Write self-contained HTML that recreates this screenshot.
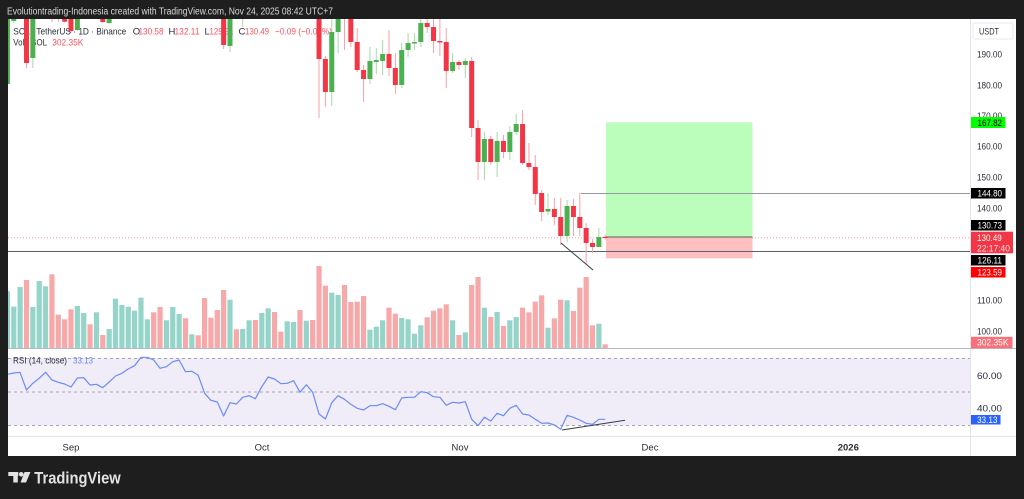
<!DOCTYPE html>
<html><head><meta charset="utf-8"><style>
html,body{margin:0;padding:0;background:#1e1e1e;}
svg{display:block;font-family:"Liberation Sans",Arial,sans-serif;}
</style></head><body>
<svg width="1024" height="499" viewBox="0 0 1024 499" xmlns="http://www.w3.org/2000/svg">
<defs>
<clipPath id="mp"><rect x="8" y="19" width="962" height="329.5"/></clipPath>
<clipPath id="rp"><rect x="8" y="349" width="962" height="87"/></clipPath>
</defs>
<rect width="1024" height="499" fill="#1e1e1e"/>
<rect x="8" y="19" width="1008" height="437" fill="#ffffff"/>
<text x="7" y="14.5" font-size="10" fill="#d9d9d9" textLength="326" lengthAdjust="spacingAndGlyphs">Evolutiontrading-Indonesia created with TradingView.com, Nov 24, 2025 08:42 UTC+7</text>

<!-- legend -->
<g font-size="9.5">
<text x="13.3" y="34.3" fill="#2a2e39" textLength="113" lengthAdjust="spacingAndGlyphs">SOL / TetherUS · 1D · Binance</text>
<text x="132.7" y="34.3" fill="#2a2e39">O</text>
<text x="138.5" y="34.3" fill="#f7525f" textLength="25" lengthAdjust="spacingAndGlyphs">130.58</text>
<text x="168.5" y="34.3" fill="#2a2e39">H</text>
<text x="174.5" y="34.3" fill="#f7525f" textLength="25" lengthAdjust="spacingAndGlyphs">132.11</text>
<text x="204.5" y="34.3" fill="#2a2e39">L</text>
<text x="209.5" y="34.3" fill="#f7525f" textLength="24" lengthAdjust="spacingAndGlyphs">129.91</text>
<text x="238.5" y="34.3" fill="#2a2e39">C</text>
<text x="245" y="34.3" fill="#f7525f" textLength="24" lengthAdjust="spacingAndGlyphs">130.49</text>
<text x="275" y="34.3" fill="#f7525f" textLength="57" lengthAdjust="spacingAndGlyphs">−0.09 (−0.07%)</text>
<text x="13.3" y="45.5" fill="#2a2e39" textLength="33.7" lengthAdjust="spacingAndGlyphs">Vol · SOL</text>
<text x="52.3" y="45.5" fill="#f7525f" textLength="31" lengthAdjust="spacingAndGlyphs">302.35K</text>
</g>

<g clip-path="url(#mp)">
<!-- volume teal -->
<g fill="#95d4c9">
<rect x="4.8" y="291" width="5.2" height="57"/>
<rect x="11.16" y="306.7" width="5.2" height="41.3"/>
<rect x="17.52" y="287" width="5.2" height="61"/>
<rect x="30.24" y="307" width="5.2" height="41"/>
<rect x="36.6" y="281" width="5.2" height="67"/>
<rect x="42.96" y="286.3" width="5.2" height="61.7"/>
<rect x="74.76" y="306" width="5.2" height="42"/>
<rect x="81.12" y="313" width="5.2" height="35"/>
<rect x="93.84" y="312.3" width="5.2" height="35.7"/>
<rect x="106.56" y="329" width="5.2" height="19"/>
<rect x="112.92" y="298.7" width="5.2" height="49.3"/>
<rect x="119.28" y="305" width="5.2" height="43"/>
<rect x="125.64" y="306.7" width="5.2" height="41.3"/>
<rect x="132" y="310.7" width="5.2" height="37.3"/>
<rect x="138.36" y="297.7" width="5.2" height="50.3"/>
<rect x="144.72" y="319.3" width="5.2" height="28.7"/>
<rect x="163.8" y="320.3" width="5.2" height="27.7"/>
<rect x="170.16" y="307" width="5.2" height="41"/>
<rect x="176.52" y="314" width="5.2" height="34"/>
<rect x="189.24" y="334.3" width="5.2" height="13.7"/>
<rect x="227.4" y="299.7" width="5.2" height="48.3"/>
<rect x="240.12" y="329" width="5.2" height="19"/>
<rect x="246.48" y="320.3" width="5.2" height="27.7"/>
<rect x="259.2" y="313" width="5.2" height="35"/>
<rect x="265.56" y="308.3" width="5.2" height="39.7"/>
<rect x="284.64" y="321.3" width="5.2" height="26.7"/>
<rect x="291" y="322" width="5.2" height="26"/>
<rect x="303.72" y="320.7" width="5.2" height="27.3"/>
<rect x="329.16" y="292.7" width="5.2" height="55.3"/>
<rect x="335.52" y="295" width="5.2" height="53"/>
<rect x="367.32" y="329.7" width="5.2" height="18.3"/>
<rect x="373.68" y="326.7" width="5.2" height="21.3"/>
<rect x="380.04" y="320.3" width="5.2" height="27.7"/>
<rect x="399.12" y="318" width="5.2" height="30"/>
<rect x="405.48" y="319.3" width="5.2" height="28.7"/>
<rect x="411.84" y="333.7" width="5.2" height="14.3"/>
<rect x="418.2" y="325.3" width="5.2" height="22.7"/>
<rect x="450" y="320.3" width="5.2" height="27.7"/>
<rect x="462.72" y="332.3" width="5.2" height="15.7"/>
<rect x="481.8" y="307.7" width="5.2" height="40.3"/>
<rect x="494.52" y="312" width="5.2" height="36"/>
<rect x="507.24" y="320.3" width="5.2" height="27.7"/>
<rect x="513.6" y="317" width="5.2" height="31"/>
<rect x="545.4" y="327.7" width="5.2" height="20.3"/>
<rect x="564.48" y="300.3" width="5.2" height="47.7"/>
<rect x="596.28" y="323.7" width="5.2" height="24.3"/>
</g>
<!-- volume pink -->
<g fill="#f7a8a9">
<rect x="23.88" y="280" width="5.2" height="68"/>
<rect x="49.32" y="274.3" width="5.2" height="73.7"/>
<rect x="55.68" y="314.7" width="5.2" height="33.3"/>
<rect x="62.04" y="319.3" width="5.2" height="28.7"/>
<rect x="68.4" y="309.3" width="5.2" height="38.7"/>
<rect x="87.48" y="324.3" width="5.2" height="23.7"/>
<rect x="100.2" y="335" width="5.2" height="13"/>
<rect x="151.08" y="312.3" width="5.2" height="35.7"/>
<rect x="157.44" y="307" width="5.2" height="41"/>
<rect x="182.88" y="318.3" width="5.2" height="29.7"/>
<rect x="195.6" y="335.3" width="5.2" height="12.7"/>
<rect x="201.96" y="298" width="5.2" height="50"/>
<rect x="208.32" y="317.7" width="5.2" height="30.3"/>
<rect x="214.68" y="310" width="5.2" height="38"/>
<rect x="221.04" y="290" width="5.2" height="58"/>
<rect x="233.76" y="329.3" width="5.2" height="18.7"/>
<rect x="252.84" y="320" width="5.2" height="28"/>
<rect x="271.92" y="312" width="5.2" height="36"/>
<rect x="278.28" y="331.7" width="5.2" height="16.3"/>
<rect x="297.36" y="310" width="5.2" height="38"/>
<rect x="310.08" y="320" width="5.2" height="28"/>
<rect x="316.44" y="266" width="5.2" height="82"/>
<rect x="322.8" y="285.7" width="5.2" height="62.3"/>
<rect x="341.88" y="285" width="5.2" height="63"/>
<rect x="348.24" y="302" width="5.2" height="46"/>
<rect x="354.6" y="301.7" width="5.2" height="46.3"/>
<rect x="360.96" y="296" width="5.2" height="52"/>
<rect x="386.4" y="307.7" width="5.2" height="40.3"/>
<rect x="392.76" y="313.7" width="5.2" height="34.3"/>
<rect x="424.56" y="317.3" width="5.2" height="30.7"/>
<rect x="430.92" y="310.7" width="5.2" height="37.3"/>
<rect x="437.28" y="308.3" width="5.2" height="39.7"/>
<rect x="443.64" y="304.3" width="5.2" height="43.7"/>
<rect x="456.36" y="335" width="5.2" height="13"/>
<rect x="469.08" y="285" width="5.2" height="63"/>
<rect x="475.44" y="277" width="5.2" height="71"/>
<rect x="488.16" y="317" width="5.2" height="31"/>
<rect x="500.88" y="326" width="5.2" height="22"/>
<rect x="519.96" y="307.7" width="5.2" height="40.3"/>
<rect x="526.32" y="312.3" width="5.2" height="35.7"/>
<rect x="532.68" y="301.7" width="5.2" height="46.3"/>
<rect x="539.04" y="295.3" width="5.2" height="52.7"/>
<rect x="551.76" y="318.3" width="5.2" height="29.7"/>
<rect x="558.12" y="299.7" width="5.2" height="48.3"/>
<rect x="570.84" y="311" width="5.2" height="37"/>
<rect x="577.2" y="287.7" width="5.2" height="60.3"/>
<rect x="583.56" y="277" width="5.2" height="71"/>
<rect x="589.92" y="325.3" width="5.2" height="22.7"/>
<rect x="602.64" y="344.3" width="5.2" height="3.7"/>
</g>

<!-- position tool -->
<rect x="606" y="122.3" width="146.5" height="114.7" fill="#bbfdbb"/>
<rect x="606" y="237" width="146.5" height="21.4" fill="#fdbfc0"/>
<line x1="606" y1="237" x2="752.5" y2="237" stroke="#555a63" stroke-width="1"/>

<!-- horizontal lines -->
<line x1="8" y1="251.5" x2="970" y2="251.5" stroke="#5d606b" stroke-width="1"/>
<line x1="581" y1="193.5" x2="970" y2="193.5" stroke="#9598a1" stroke-width="1"/>
<line x1="8" y1="237.8" x2="970" y2="237.8" stroke="#f7a1a8" stroke-width="1" stroke-dasharray="1 2"/>

<!-- red wicks -->
<g stroke="#f7a1a8" stroke-width="1" fill="none">
<path d="M51.92 0V22M58.28 0V22M64.64 0V22.5M71 0V33M102.8 0V23M26.48 0V68M223.64 0V49M319.04 0V118M325.4 56V107M344.48 0V50M350.84 0V47M357.2 28V72M363.56 65V102M389 30V76M395.36 53V94M427.16 15V33M433.52 15V53M439.88 15V56M446.24 28V88M458.96 60V70M471.68 57V137M478.04 120V180M490.76 136V165M503.48 135V158M522.56 110V165M528.92 143V170M535.28 155V205M541.64 190V221M554.36 198V225M560.72 198V245M573.44 199V236M579.8 193V236M586.16 223V264M592.52 239V253M605.24 234.5V239.5"/>
</g>
<!-- green wicks -->
<g stroke="#a8d8aa" stroke-width="1" fill="none">
<path d="M7.4 0V86M13.76 0V23M32.84 0V68M77.36 0V31M109.16 0V24M230 0V52M242.72 0V27M331.76 19V106M338.12 0V53M369.92 47V84M376.28 48V74M382.64 40V75M401.72 43V88M408.08 33V57M414.44 33V50M420.8 15V47M452.6 53V73M465.32 58V78M484.4 132V180M497.12 132V177M509.84 126V160M516.2 114V135M548 193V215M567.08 200V242M598.88 228V247"/>
</g>
<!-- red bodies -->
<g fill="#f23645">
<rect x="23.98" y="0" width="5" height="63"/>
<rect x="62.14" y="0" width="5" height="21.7"/>
<rect x="68.5" y="0" width="5" height="31"/>
<rect x="100.3" y="0" width="5" height="22"/>
<rect x="221.14" y="0" width="5" height="45"/>
<rect x="316.54" y="0" width="5" height="59"/>
<rect x="322.9" y="59" width="5" height="33"/>
<rect x="348.34" y="0" width="5" height="42"/>
<rect x="354.7" y="42" width="5" height="28"/>
<rect x="361.06" y="70" width="5" height="9"/>
<rect x="386.5" y="54" width="5" height="14"/>
<rect x="392.86" y="68" width="5" height="17"/>
<rect x="424.66" y="23" width="5" height="4"/>
<rect x="431.02" y="27" width="5" height="14"/>
<rect x="437.38" y="41" width="5" height="1.5"/>
<rect x="443.74" y="42" width="5" height="29"/>
<rect x="456.46" y="62" width="5" height="3"/>
<rect x="469.18" y="61" width="5" height="67"/>
<rect x="475.54" y="128" width="5" height="34"/>
<rect x="488.26" y="139" width="5" height="23"/>
<rect x="500.98" y="141" width="5" height="11"/>
<rect x="520.06" y="124" width="5" height="39"/>
<rect x="526.42" y="163" width="5" height="4"/>
<rect x="532.78" y="167" width="5" height="27"/>
<rect x="539.14" y="193" width="5" height="19"/>
<rect x="551.86" y="209" width="5" height="8"/>
<rect x="558.22" y="217" width="5" height="19"/>
<rect x="570.94" y="206" width="5" height="11"/>
<rect x="577.3" y="217" width="5" height="11"/>
<rect x="583.66" y="228" width="5" height="15"/>
<rect x="590.02" y="243" width="5" height="4"/>
<rect x="602.74" y="236.8" width="5" height="1.2"/>
</g>
<!-- green bodies -->
<g fill="#4caf50">
<rect x="4.9" y="0" width="5" height="84"/>
<rect x="11.26" y="0" width="5" height="21"/>
<rect x="30.34" y="0" width="5" height="58"/>
<rect x="74.86" y="0" width="5" height="30"/>
<rect x="106.66" y="0" width="5" height="23"/>
<rect x="227.5" y="0" width="5" height="46"/>
<rect x="329.26" y="32" width="5" height="60"/>
<rect x="335.62" y="0" width="5" height="32"/>
<rect x="367.42" y="61" width="5" height="18"/>
<rect x="373.78" y="60" width="5" height="2"/>
<rect x="380.14" y="54" width="5" height="7"/>
<rect x="399.22" y="50" width="5" height="35"/>
<rect x="405.58" y="43" width="5" height="7"/>
<rect x="411.94" y="42" width="5" height="1.5"/>
<rect x="418.3" y="23" width="5" height="19"/>
<rect x="450.1" y="62" width="5" height="9"/>
<rect x="462.82" y="61" width="5" height="4"/>
<rect x="481.9" y="139" width="5" height="23"/>
<rect x="494.62" y="141" width="5" height="21"/>
<rect x="507.34" y="132" width="5" height="20"/>
<rect x="513.7" y="124" width="5" height="8"/>
<rect x="545.5" y="209" width="5" height="2.5"/>
<rect x="564.58" y="206" width="5" height="30"/>
<rect x="596.38" y="237" width="5" height="10"/>
</g>
<!-- diagonal -->
<line x1="561" y1="243" x2="593" y2="270" stroke="#3a3d45" stroke-width="1"/>
</g>

<!-- RSI pane -->
<rect x="8" y="358" width="962" height="67.5" fill="#f0ecf8"/>
<g stroke="#a3a6af" stroke-width="1" stroke-dasharray="3 3">
<line x1="8" y1="358.5" x2="970" y2="358.5"/>
<line x1="8" y1="392" x2="970" y2="392"/>
<line x1="8" y1="425.5" x2="970" y2="425.5"/>
</g>
<g clip-path="url(#rp)">
<polyline fill="none" stroke="#6a8cf5" stroke-width="1.2" stroke-linejoin="round" points="7.4,374.3 13.8,373 20,372.3 26.5,390 32.8,383.3 39.2,378.3 45.6,372.3 51.9,380 58.3,382.3 64.6,384 71,387 77.4,378 83.7,377.7 90.1,385 96.4,384.3 102.8,387.7 109.2,382 115.5,376 121.9,373.3 128.2,369 134.6,365.7 141,357.3 147.3,357.3 153.7,360 160,368.3 166.4,366.7 172.8,361.7 179.1,360 185.5,371.7 191.8,371.3 198.2,375.3 204.6,393.3 210.9,400.3 217.3,402 223.6,416 230,402.7 236.4,404 242.7,397.3 249.1,395.7 255.4,398.7 261.8,386.7 268.2,377 274.5,379 280.9,383.7 287.2,383.3 293.6,380.7 300,392.3 306.3,384.7 312.7,392.3 319,414 325.4,419 331.8,402.7 338.1,395.7 344.5,399.3 350.8,404.3 357.2,408.3 363.6,410 369.9,405.7 376.3,405.7 382.6,403.7 389,406.3 395.4,409.7 401.7,398 408.1,397.3 414.4,397.3 420.8,391.7 427.2,392.7 433.5,396.7 439.9,397.3 446.2,405.3 452.6,402.3 459,403 465.3,401.7 471.7,419.3 478,425.7 484.4,417.3 490.8,421 497.1,413.3 503.5,415.7 509.8,408.3 516.2,405.3 522.6,414 528.9,415 535.3,419.3 541.6,423.3 548,423 554.4,425 560.7,429.3 567.1,415.3 573.4,417.3 579.8,420 586.2,423.3 592.5,424.3 598.9,419.3 605.2,419.3"/>
<line x1="562" y1="430" x2="625" y2="420.3" stroke="#3a3d45" stroke-width="1"/>
</g>
<text x="13" y="363.5" font-size="9.5" fill="#2a2e39" textLength="54" lengthAdjust="spacingAndGlyphs">RSI (14, close)</text>
<text x="73" y="363.5" font-size="9.5" fill="#6a8cf5" textLength="20" lengthAdjust="spacingAndGlyphs">33.13</text>

<!-- separators -->
<line x1="970.5" y1="19" x2="970.5" y2="456" stroke="#e0e3eb" stroke-width="1"/>
<line x1="8" y1="348.5" x2="1016" y2="348.5" stroke="#b8bbc3" stroke-width="1"/>
<line x1="8" y1="436.5" x2="1016" y2="436.5" stroke="#e0e3eb" stroke-width="1"/>

<!-- price axis -->
<rect x="973" y="23" width="40" height="16" rx="2" fill="#ffffff" stroke="#e6e8ee" stroke-width="1"/>
<text x="979" y="34.3" font-size="9" fill="#2a2e39" textLength="20" lengthAdjust="spacingAndGlyphs">USDT</text>
<g font-size="9" fill="#2a2e39">
<text x="977" y="57.3" textLength="25" lengthAdjust="spacingAndGlyphs">190.00</text>
<text x="977" y="88.3" textLength="25" lengthAdjust="spacingAndGlyphs">180.00</text>
<text x="977" y="119" textLength="25" lengthAdjust="spacingAndGlyphs">170.00</text>
<text x="977" y="149.3" textLength="25" lengthAdjust="spacingAndGlyphs">160.00</text>
<text x="977" y="180.3" textLength="25" lengthAdjust="spacingAndGlyphs">150.00</text>
<text x="977" y="211.3" textLength="25" lengthAdjust="spacingAndGlyphs">140.00</text>
<text x="977" y="303.3" textLength="25" lengthAdjust="spacingAndGlyphs">110.00</text>
<text x="977" y="334.3" textLength="25" lengthAdjust="spacingAndGlyphs">100.00</text>
<text x="977" y="379" textLength="25" lengthAdjust="spacingAndGlyphs">60.00</text>
<text x="977" y="411.3" textLength="25" lengthAdjust="spacingAndGlyphs">40.00</text>
</g>
<rect x="971" y="117" width="34.5" height="11" fill="#00ff00"/>
<text x="977.5" y="125.8" font-size="9" fill="#000" textLength="24.5" lengthAdjust="spacingAndGlyphs">167.82</text>
<rect x="971" y="188" width="34.5" height="10.5" fill="#000000"/>
<text x="977.5" y="196.5" font-size="9" fill="#fff" textLength="24.5" lengthAdjust="spacingAndGlyphs">144.80</text>
<rect x="971" y="220" width="34.5" height="10.5" fill="#000000"/>
<text x="977.5" y="228.5" font-size="9" fill="#fff" textLength="24.5" lengthAdjust="spacingAndGlyphs">130.73</text>
<rect x="971" y="231.7" width="42" height="21.6" fill="#f23645"/>
<text x="977" y="241" font-size="9" fill="#fff" textLength="24.7" lengthAdjust="spacingAndGlyphs">130.49</text>
<text x="977" y="251.5" font-size="9" fill="#fde0e2" textLength="33" lengthAdjust="spacingAndGlyphs">22:17:40</text>
<rect x="971" y="255" width="34.5" height="10.5" fill="#000000"/>
<text x="977.5" y="263.5" font-size="9" fill="#fff" textLength="24.5" lengthAdjust="spacingAndGlyphs">126.11</text>
<rect x="971" y="267" width="34.5" height="10.5" fill="#ff0000"/>
<text x="977.5" y="275.5" font-size="9" fill="#fff" textLength="24.5" lengthAdjust="spacingAndGlyphs">123.59</text>
<rect x="971" y="336.8" width="41.5" height="11.4" fill="#f7707a"/>
<text x="977" y="345.7" font-size="9" fill="#fff" textLength="31.5" lengthAdjust="spacingAndGlyphs">302.35K</text>
<rect x="971" y="415" width="29.5" height="9.5" fill="#2962ff"/>
<text x="977" y="423" font-size="9" fill="#fff" textLength="20.5" lengthAdjust="spacingAndGlyphs">33.13</text>

<!-- time axis -->
<g font-size="9.5" fill="#2a2e39" text-anchor="middle">
<text x="71" y="450.3">Sep</text>
<text x="262" y="450.3">Oct</text>
<text x="460" y="450.3">Nov</text>
<text x="650" y="450.3">Dec</text>
<text x="848.3" y="450.3" font-weight="bold">2026</text>
</g>

<!-- TradingView logo -->
<g fill="#e3e3e3">
<rect x="8.3" y="472" width="10" height="4"/>
<rect x="13.3" y="472" width="4.5" height="10.5"/>
<circle cx="21.2" cy="474.3" r="2.3"/>
<polygon points="24.5,472 30.5,472 26,482.5 20.5,482.5"/>
</g>
<text x="34.3" y="483.5" font-size="16.5" font-weight="bold" fill="#e3e3e3" textLength="86.4" lengthAdjust="spacingAndGlyphs">TradingView</text>
</svg>
</body></html>
